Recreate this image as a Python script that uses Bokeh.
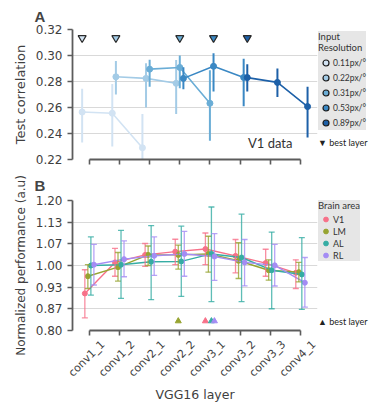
import math
from bokeh.plotting import figure
from bokeh.models import (Range1d, FixedTicker, NumeralTickFormatter, Legend, LegendItem,
                          Label, Whisker, TeeHead, ColumnDataSource, LinearAxis,
                          CustomLabelingPolicy)
from bokeh.layouts import column, row
from bokeh.embed import file_html
from bokeh.resources import INLINE

# ---------------- data ----------------
layers = ["conv1_1", "conv1_2", "conv2_1", "conv2_2", "conv3_1", "conv3_2", "conv3_3", "conv4_1"]

# Panel A: test correlation per input resolution (V1 data)
resolutions = ["0.11px/°", "0.22px/°", "0.31px/°", "0.53px/°", "0.89px/°"]
res_colors = ["#d2e3f3", "#a3cbe6", "#6aadd6", "#3a88c4", "#1d60a8"]

a_layers_011 = ["conv1_1", "conv1_2", "conv2_1"]
a_mean_011 = [0.2565, 0.2556, 0.2290]
a_lo_011 = [0.2330, 0.2300, 0.2100]
a_hi_011 = [0.2745, 0.2780, 0.2550]

a_layers_022 = ["conv1_2", "conv2_1", "conv2_2"]
a_mean_022 = [0.2836, 0.2824, 0.2786]
a_lo_022 = [0.2700, 0.2600, 0.2550]
a_hi_022 = [0.2958, 0.2940, 0.2965]

a_layers_031 = ["conv2_1", "conv2_2", "conv3_1"]
a_mean_031 = [0.2895, 0.2908, 0.2632]
a_lo_031 = [0.2760, 0.2748, 0.2345]
a_hi_031 = [0.2968, 0.3000, 0.2887]

a_layers_053 = ["conv2_2", "conv3_1", "conv3_2"]
a_mean_053 = [0.2824, 0.2917, 0.2831]
a_lo_053 = [0.2740, 0.2723, 0.2610]
a_hi_053 = [0.2910, 0.3018, 0.2975]

a_layers_089 = ["conv3_2", "conv3_3", "conv4_1"]
a_mean_089 = [0.2830, 0.2793, 0.2607]
a_lo_089 = [0.2723, 0.2680, 0.2370]
a_hi_089 = [0.2933, 0.2900, 0.2760]

a_best = ["conv1_1", "conv1_2", "conv2_2", "conv3_1", "conv3_2"]
a_yticks = [0.22, 0.24, 0.26, 0.28, 0.30, 0.32]

# Panel B: normalized performance per brain area
areas = ["V1", "LM", "AL", "RL"]
area_colors = ["#f77189", "#97a431", "#36ada4", "#a48cf4"]

b_mean_V1 = [0.914, 1.0095, 1.0326, 1.0426, 1.0506, 1.0296, 1.0075, 0.9775]
b_lo_V1 = [0.839, 0.967, 0.9975, 1.0025, 1.0025, 0.9775, 0.967, 0.9293]
b_hi_V1 = [0.987, 1.0526, 1.0677, 1.0807, 1.100, 1.080, 1.050, 1.0175]

b_mean_LM = [0.967, 0.995, 1.0326, 1.0326, 1.0356, 1.0145, 0.9855, 0.9795]
b_lo_LM = [0.929, 0.952, 1.000, 0.989, 0.9795, 0.960, 0.955, 0.9494]
b_hi_LM = [1.0025, 1.040, 1.060, 1.0627, 1.090, 1.070, 1.0175, 1.0095]

b_mean_AL = [1.000, 1.0025, 1.0115, 1.0125, 1.0356, 1.0246, 0.9855, 0.9725]
b_lo_AL = [0.909, 0.899, 0.895, 0.905, 0.889, 0.889, 0.867, 0.865]
b_hi_AL = [1.088, 1.108, 1.123, 1.121, 1.180, 1.158, 1.1028, 1.0857]

b_mean_RL = [1.0025, 1.0195, 1.030, 1.0356, 1.0276, 1.0095, 1.0005, 0.947]
b_lo_RL = [0.940, 0.9654, 0.9694, 0.967, 0.9544, 0.9373, 0.937, 0.8722]
b_hi_RL = [1.065, 1.0757, 1.088, 1.105, 1.098, 1.080, 1.0647, 1.0246]

b_best = ["conv3_1", "conv2_2", "conv3_1", "conv3_1"]
b_yticks = [0.80, 0.8667, 0.9333, 1.00, 1.0667, 1.1333, 1.20]

# ---------------- style ----------------
XOFF_A = [-0.24, -0.12, 0.0, 0.12, 0.24]
XOFF_B = [-0.15, -0.05, 0.05, 0.15]
AXC = "#5c5c5c"
TXT = "#3f3f3f"
LEG_FONT = "Lato"
X0, X1 = -0.56, 7.57
MAIN_W, LEG_W = 318, 51
LBL_SHIFT = 0.45          # shifts rotated labels so they sit centred under the ticks
NO_LABELS = CustomLabelingPolicy(code="for (const i of indices) indices.unset(i); return indices")


def style(p, title_standoff):
    p.xgrid.visible = False
    p.ygrid.grid_line_color = "#d9d9d9"
    p.ygrid.grid_line_width = 1.2
    p.outline_line_color = None
    for ax in (p.xaxis[0], p.yaxis[0]):
        ax.axis_line_color = AXC
        ax.axis_line_width = 1.8
        ax.major_tick_line_color = AXC
        ax.major_tick_line_width = 1.6
        ax.major_tick_in = 0
        ax.major_tick_out = 5
        ax.minor_tick_line_color = None
        ax.major_label_text_font = "DejaVu Sans"
        ax.major_label_text_font_size = "12px"
        ax.major_label_text_color = TXT
        ax.axis_label_text_font = "DejaVu Sans"
        ax.axis_label_text_font_size = "13px"
        ax.axis_label_text_font_style = "normal"
        ax.axis_label_text_color = TXT
    xa = p.xaxis[0]
    xa.ticker = FixedTicker(ticks=list(range(len(layers))))
    xa.bounds = (0, len(layers) - 1)
    xa.major_label_text_font_size = "0px"
    xa.major_label_standoff = 0
    xa.major_label_policy = NO_LABELS
    p.title.text_font = "Liberation Sans"
    p.title.text_font_size = "15px"
    p.title.text_font_style = "bold"
    p.title.align = "left"
    p.title.offset = -38
    p.title.standoff = title_standoff


def leg_fig(h):
    f = figure(width=LEG_W, height=h, x_range=Range1d(0, 1), y_range=Range1d(-2, -1),
               output_backend="svg", toolbar_location=None, x_axis_location=None,
               y_axis_location=None, min_border=0)
    f.outline_line_color = None
    f.grid.visible = False
    return f


def leg_style(lg, label_size, title_size, gh):
    lg.label_text_font = LEG_FONT
    lg.label_text_font_size = label_size
    lg.label_text_color = "#333333"
    lg.title_text_font = LEG_FONT
    lg.title_text_font_size = title_size
    lg.title_text_font_style = "normal"
    lg.title_text_color = "#333333"
    lg.glyph_height = gh
    lg.label_height = gh
    lg.glyph_width = 15
    lg.label_standoff = -3
    lg.spacing = 0
    lg.margin = 0
    lg.padding = 1
    lg.title_standoff = 2
    lg.border_line_color = None
    lg.background_fill_color = "#e6e6e6"
    lg.background_fill_alpha = 1


def note_legend(text, loc):
    lg = Legend(items=[LegendItem(label=text, renderers=[])], location=loc)
    lg.label_text_font = LEG_FONT
    lg.label_text_font_size = "9px"
    lg.label_text_color = "#222222"
    lg.glyph_width = 0
    lg.glyph_height = 12
    lg.label_height = 12
    lg.label_standoff = 0
    lg.padding = 0
    lg.margin = 0
    lg.border_line_color = None
    lg.background_fill_alpha = 0
    return lg


# ---------------- panel A ----------------
HA = 167
pA = figure(width=MAIN_W, height=HA, x_range=Range1d(X0, X1), y_range=Range1d(0.22, 0.32),
            output_backend="svg", toolbar_location=None, min_border_left=72, min_border_right=1,
            min_border_top=27, min_border_bottom=8, title="A")
style(pA, 10)
pA.yaxis[0].ticker = FixedTicker(ticks=a_yticks)
pA.yaxis[0].formatter = NumeralTickFormatter(format="0.00")
pA.yaxis[0].axis_label = "Test correlation"
fA = leg_fig(HA)

a_series = [
    (a_layers_011, a_mean_011, a_lo_011, a_hi_011),
    (a_layers_022, a_mean_022, a_lo_022, a_hi_022),
    (a_layers_031, a_mean_031, a_lo_031, a_hi_031),
    (a_layers_053, a_mean_053, a_lo_053, a_hi_053),
    (a_layers_089, a_mean_089, a_lo_089, a_hi_089),
]
A_BEST_Y = 0.3135
legA_items = []
for i, (ls, m, lo, hi) in enumerate(a_series):
    c = res_colors[i]
    xs = [layers.index(l) + XOFF_A[i] for l in ls]
    src = ColumnDataSource(dict(x=xs, m=m, lo=lo, hi=hi))
    pA.segment(x0="x", y0="lo", x1="x", y1="hi", source=src, line_color=c, line_width=2)
    pA.line(x="x", y="m", source=src, line_color=c, line_width=1.6)
    pA.scatter(x="x", y="m", source=src, size=6, fill_color=c, line_color=c)
    bx = layers.index(a_best[i]) + XOFF_A[i]
    pA.scatter(x=[bx], y=[A_BEST_Y], marker="inverted_triangle", size=8,
               fill_color=c, line_color="#2a2a2a", line_width=1.2)
    # legend swatch: same data in the legend strip (outside its range, so only the key shows)
    r = fA.scatter(x="x", y="m", source=src, size=8, fill_color=c, line_color="#1a1a1a",
                   line_width=1.2)
    legA_items.append(LegendItem(label=resolutions[i], renderers=[r]))

pA.add_layout(Label(x=6.0, y=0.2325, text="V1 data", text_font=LEG_FONT, text_font_size="13px",
                    text_color="#333333", text_align="center", text_baseline="middle"))

legA = Legend(items=legA_items, title="Input\nResolution", location=(0, 29))
leg_style(legA, "8.5px", "9.5px", 15)
fA.add_layout(legA, "center")
fA.add_layout(note_legend("▼ best layer", (0, 11)), "center")

# ---------------- panel B ----------------
HB = 405 - HA
pB = figure(width=MAIN_W, height=HB, x_range=Range1d(X0, X1), y_range=Range1d(0.80, 1.20),
            output_backend="svg", toolbar_location=None, min_border_left=72, min_border_right=1,
            min_border_top=31, min_border_bottom=74, title="B")
style(pB, 14)
pB.yaxis[0].ticker = FixedTicker(ticks=b_yticks)
pB.yaxis[0].formatter = NumeralTickFormatter(format="0.00")
pB.yaxis[0].axis_label = "Normalized performance (a.u)"
pB.yaxis[0].axis_label_text_font_size = "12px"
fB = leg_fig(HB)

# second bottom axis carrying the rotated layer names and the axis title
pB.extra_x_ranges = {"lab": Range1d(X0 - LBL_SHIFT, X1 - LBL_SHIFT)}
lab_ax = LinearAxis(x_range_name="lab", ticker=FixedTicker(ticks=list(range(len(layers)))),
                    major_label_overrides={k: l for k, l in enumerate(layers)},
                    major_label_orientation=math.pi / 4, axis_line_color=None,
                    major_tick_in=0, major_tick_out=0, minor_tick_line_color=None,
                    major_tick_line_color=None, major_label_standoff=7,
                    major_label_text_font="DejaVu Sans", major_label_text_font_size="11px",
                    major_label_text_color=TXT, axis_label="VGG16 layer",
                    axis_label_text_font="DejaVu Sans", axis_label_text_font_size="12.5px",
                    axis_label_text_font_style="normal", axis_label_text_color=TXT,
                    axis_label_standoff=0)
pB.add_layout(lab_ax, "below")

b_series = [
    (b_mean_V1, b_lo_V1, b_hi_V1),
    (b_mean_LM, b_lo_LM, b_hi_LM),
    (b_mean_AL, b_lo_AL, b_hi_AL),
    (b_mean_RL, b_lo_RL, b_hi_RL),
]
B_BEST_Y = 0.829
legB_items = []
for i, (m, lo, hi) in enumerate(b_series):
    c = area_colors[i]
    xs = [k + XOFF_B[i] for k in range(len(layers))]
    src = ColumnDataSource(dict(x=xs, m=m, lo=lo, hi=hi))
    w = Whisker(source=src, base="x", upper="hi", lower="lo", line_color=c, line_width=1.3,
                line_alpha=0.8,
                upper_head=TeeHead(size=6, line_color=c, line_width=1.3, line_alpha=0.8),
                lower_head=TeeHead(size=6, line_color=c, line_width=1.3, line_alpha=0.8),
                level="glyph")
    pB.add_layout(w)
    pB.line(x="x", y="m", source=src, line_color=c, line_width=1.4)
    pB.scatter(x="x", y="m", source=src, size=5, fill_color=c, line_color=c)
    bx = layers.index(b_best[i]) + XOFF_B[i]
    pB.scatter(x=[bx], y=[B_BEST_Y], marker="triangle", size=6, fill_color=c, line_color=c)
    rl = fB.scatter(x="x", y="m", source=src, size=7, fill_color=c, line_color=c)
    legB_items.append(LegendItem(label=areas[i], renderers=[rl]))

legB = Legend(items=legB_items, title="Brain area", location=(0, 69))
leg_style(legB, "9px", "9.5px", 12)
fB.add_layout(legB, "center")
fB.add_layout(note_legend("▲ best layer", (0, 3)), "center")

layout = column(row(pA, fA, spacing=0), row(pB, fB, spacing=0), spacing=0)
open("out.html", "w").write(file_html(layout, INLINE))
